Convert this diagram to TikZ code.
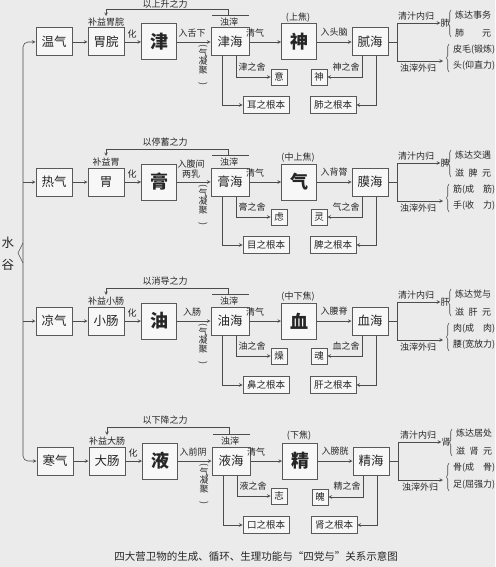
\documentclass[tikz,border=0pt]{standalone}
\usepackage{fontspec}
\setmainfont{Noto Sans CJK SC}
\usetikzlibrary{decorations.pathreplacing}

\begin{document}
\begin{tikzpicture}[x=1pt,y=-1pt,>=stealth,
    conn/.style={draw=black!70, line width=0.6pt},
    box/.style={draw=black!65, line width=1pt, fill=black!3, inner sep=0pt, text=black!85,
        minimum width=36pt, minimum height=28pt, font=\fontsize{12.5}{13}\selectfont},
    bigbox/.style={box, minimum width=35pt, minimum height=36pt, font=\fontsize{18}{18}\selectfont\bfseries},
    seabox/.style={box, minimum width=38pt},
    shebox/.style={box, line width=0.8pt, minimum width=16pt, minimum height=16pt, font=\fontsize{9.5}{10}\selectfont},
    rootbox/.style={shebox, minimum width=46pt, minimum height=17pt},
    lab/.style={inner sep=0pt, text=black!85, font=\fontsize{9}{10}\selectfont},
    vlab/.style={lab, align=center, font=\fontsize{9}{8.8}\selectfont},
    side/.style={lab, anchor=west},
    brc/.style={conn, decorate, decoration={brace, amplitude=2.5pt}}]

    \fill[black!8] (0,0) rectangle (495,567);
    \useasboundingbox (0,0) rectangle (495,567);

    % 水谷
    \node[lab, font=\fontsize{12.5}{13}\selectfont] (shui) at (8,243) {水};
    \node[lab, font=\fontsize{12.5}{13}\selectfont] (gu) at (8,265) {谷};
    \coordinate (sp) at (23,253);
    \draw[conn] (23,243) -- (18,253) -- (23,263);

    % row 1
    \node[box] (Q1) at (54,42) {温气};
    \node[box] (F1) at (106,42) {胃脘};
    \node[lab] at (106,22) {补益胃脘};
    \node[lab] at (132,34) {化};
    \node[bigbox] (E1) at (159,42) {津};
    \node[lab] at (192,33) {入舌下};
    \node[vlab] at (203,65) {\rotatebox{-90}{(}\\气\\凝\\聚\\\rotatebox{-90}{)}};
    \node[seabox] (S1) at (230,42) {津海};
    \node[lab] at (229,22) {浊滓};
    \draw[conn] (212,15) -- (249,15);
    \coordinate (b1) at (228,15);
    \coordinate (t1) at (228,9);
    \coordinate (a1) at (106,16);
    \draw[conn,->] (b1) -- (t1) -| (a1);
    \node[lab] at (165,4) {以上升之力};
    \node[lab] at (255,33) {清气};
    \node[bigbox] (J1) at (299,42) {神};
    \node[lab] at (298,18) {(上焦)};
    \node[lab] at (334,32) {入头脑};
    \node[box] (H1) at (370,42) {腻海};
    \coordinate (m1) at (397,42);
    \coordinate (u1) at (397,23);
    \coordinate (d1) at (397,61);
    \coordinate (e1) at (443,61);
    \node[lab] (o1) at (445,23) {肺};
    \node[lab] at (416,16) {清汁内归};
    \node[lab] at (418,68) {浊滓外归};
    \draw[brc] (451,37) -- (451,10);
    \node[side] at (455,15) {炼达事务};
    \node[side] at (455,33) {肺\hspace{2em}元};
    \draw[brc] (449,72) -- (449,44);
    \node[side] at (453,50) {皮毛(锻炼)};
    \node[side] at (453,66) {头(仰直力)};
    \node[shebox] (X1) at (279,77) {意};
    \node[rootbox] (R1) at (266,105) {耳之根本};
    \node[shebox] (Y1) at (319,77) {神};
    \node[rootbox] (K1) at (333,105) {肺之根本};
    \node[lab] at (252,67) {津之舍};
    \node[lab] at (346,67) {神之舍};

    \draw[conn,->,rounded corners=5pt] (sp) |- (Q1);
    \draw[conn,->] (Q1) -- (F1);
    \draw[conn,->] (F1) -- (E1);
    \draw[conn,->] (E1) -- (S1);
    \draw[conn,->] (S1) -- (J1);
    \draw[conn,->] (J1) -- (H1);
    \draw[conn] (H1) -- (m1);
    \draw[conn] (u1) -- (d1);
    \draw[conn,->] (u1) -- (o1);
    \draw[conn,->] (d1) -- (e1);
    \draw[conn,->] ([xshift=6pt]S1.south) |- (X1);
    \draw[conn,->] ([xshift=-8pt]S1.south) |- (R1);
    \draw[conn,->] ([xshift=-8pt]H1.south) |- (Y1);
    \draw[conn,->] ([xshift=6pt]H1.south) |- (K1);

    % row 2
    \node[box] (Q2) at (54,182) {热气};
    \node[box] (F2) at (106,182) {胃};
    \node[lab] at (106,162) {补益胃};
    \node[lab] at (132,174) {化};
    \node[bigbox] (E2) at (159,182) {膏};
    \node[lab, align=center] at (191,169) {入腹间\\两乳};
    \node[vlab] at (203,205) {\rotatebox{-90}{(}\\气\\凝\\聚\\\rotatebox{-90}{)}};
    \node[seabox] (S2) at (230,182) {膏海};
    \node[lab] at (229,162) {浊滓};
    \draw[conn] (212,155) -- (249,155);
    \coordinate (b2) at (228,155);
    \coordinate (t2) at (228,149);
    \coordinate (a2) at (106,156);
    \draw[conn,->] (b2) -- (t2) -| (a2);
    \node[lab] at (165,142) {以停蓄之力};
    \node[lab] at (255,173) {清气};
    \node[bigbox] (J2) at (299,182) {气};
    \node[lab] at (298,158) {(中上焦)};
    \node[lab] at (334,172) {入背膂};
    \node[box] (H2) at (370,182) {膜海};
    \coordinate (m2) at (397,182);
    \coordinate (u2) at (397,163);
    \coordinate (d2) at (397,201);
    \coordinate (e2) at (443,201);
    \node[lab] (o2) at (445,163) {脾};
    \node[lab] at (416,156) {清汁内归};
    \node[lab] at (418,208) {浊滓外归};
    \draw[brc] (451,177) -- (451,150);
    \node[side] at (455,155) {炼达交遇};
    \node[side] at (455,173) {滋\hspace{0.5em}脾\hspace{0.5em}元};
    \draw[brc] (449,212) -- (449,184);
    \node[side] at (453,190) {筋(成\hspace{1em}筋)};
    \node[side] at (453,206) {手(收\hspace{1em}力)};
    \node[shebox] (X2) at (279,217) {虑};
    \node[rootbox] (R2) at (266,245) {目之根本};
    \node[shebox] (Y2) at (319,217) {灵};
    \node[rootbox] (K2) at (333,245) {脾之根本};
    \node[lab] at (252,207) {膏之舍};
    \node[lab] at (346,207) {气之舍};

    \draw[conn,->] (sp |- Q2) -- (Q2);
    \draw[conn,->] (Q2) -- (F2);
    \draw[conn,->] (F2) -- (E2);
    \draw[conn,->] (E2) -- (S2);
    \draw[conn,->] (S2) -- (J2);
    \draw[conn,->] (J2) -- (H2);
    \draw[conn] (H2) -- (m2);
    \draw[conn] (u2) -- (d2);
    \draw[conn,->] (u2) -- (o2);
    \draw[conn,->] (d2) -- (e2);
    \draw[conn,->] ([xshift=6pt]S2.south) |- (X2);
    \draw[conn,->] ([xshift=-8pt]S2.south) |- (R2);
    \draw[conn,->] ([xshift=-8pt]H2.south) |- (Y2);
    \draw[conn,->] ([xshift=6pt]H2.south) |- (K2);

    % row 3
    \node[box] (Q3) at (54,321) {凉气};
    \node[box] (F3) at (106,321) {小肠};
    \node[lab] at (106,301) {补益小肠};
    \node[lab] at (132,313) {化};
    \node[bigbox] (E3) at (159,321) {油};
    \node[lab] at (192,312) {入肠};
    \node[vlab] at (203,344) {\rotatebox{-90}{(}\\气\\凝\\聚\\\rotatebox{-90}{)}};
    \node[seabox] (S3) at (230,321) {油海};
    \node[lab] at (229,301) {浊滓};
    \draw[conn] (212,294) -- (249,294);
    \coordinate (b3) at (228,294);
    \coordinate (t3) at (228,288);
    \coordinate (a3) at (106,295);
    \draw[conn,->] (b3) -- (t3) -| (a3);
    \node[lab] at (165,281) {以消导之力};
    \node[lab] at (255,312) {清气};
    \node[bigbox] (J3) at (299,321) {血};
    \node[lab] at (298,297) {(中下焦)};
    \node[lab] at (334,311) {入腰脊};
    \node[box] (H3) at (370,321) {血海};
    \coordinate (m3) at (397,321);
    \coordinate (u3) at (397,302);
    \coordinate (d3) at (397,340);
    \coordinate (e3) at (443,340);
    \node[lab] (o3) at (445,302) {肝};
    \node[lab] at (416,295) {清汁内归};
    \node[lab] at (418,347) {浊滓外归};
    \draw[brc] (451,316) -- (451,289);
    \node[side] at (455,294) {炼达觉与};
    \node[side] at (455,312) {滋\hspace{0.5em}肝\hspace{0.5em}元};
    \draw[brc] (449,351) -- (449,323);
    \node[side] at (453,329) {肉(成\hspace{1em}肉)};
    \node[side] at (453,345) {腰(宽放力)};
    \node[shebox] (X3) at (279,356) {燥};
    \node[rootbox] (R3) at (266,385) {鼻之根本};
    \node[shebox] (Y3) at (319,356) {魂};
    \node[rootbox] (K3) at (333,385) {肝之根本};
    \node[lab] at (252,346) {油之舍};
    \node[lab] at (346,346) {血之舍};

    \draw[conn,->] (sp |- Q3) -- (Q3);
    \draw[conn,->] (Q3) -- (F3);
    \draw[conn,->] (F3) -- (E3);
    \draw[conn,->] (E3) -- (S3);
    \draw[conn,->] (S3) -- (J3);
    \draw[conn,->] (J3) -- (H3);
    \draw[conn] (H3) -- (m3);
    \draw[conn] (u3) -- (d3);
    \draw[conn,->] (u3) -- (o3);
    \draw[conn,->] (d3) -- (e3);
    \draw[conn,->] ([xshift=6pt]S3.south) |- (X3);
    \draw[conn,->] ([xshift=-8pt]S3.south) |- (R3);
    \draw[conn,->] ([xshift=-8pt]H3.south) |- (Y3);
    \draw[conn,->] ([xshift=6pt]H3.south) |- (K3);

    % row 4
    \node[box] (Q4) at (55,461) {寒气};
    \node[box] (F4) at (107,461) {大肠};
    \node[lab] at (107,441) {补益大肠};
    \node[lab] at (133,453) {化};
    \node[bigbox] (E4) at (160,461) {液};
    \node[lab] at (193,452) {入前阴};
    \node[vlab] at (204,484) {\rotatebox{-90}{(}\\气\\凝\\聚\\\rotatebox{-90}{)}};
    \node[seabox] (S4) at (231,461) {液海};
    \node[lab] at (230,441) {浊滓};
    \draw[conn] (213,434) -- (250,434);
    \coordinate (b4) at (229,434);
    \coordinate (t4) at (229,427);
    \coordinate (a4) at (107,435);
    \draw[conn,->] (b4) -- (t4) -| (a4);
    \node[lab] at (165,420) {以下降之力};
    \node[lab] at (256,452) {清气};
    \node[bigbox] (J4) at (300,461) {精};
    \node[lab] at (299,436) {(下焦)};
    \node[lab] at (335,451) {入膀胱};
    \node[box] (H4) at (371,461) {精海};
    \coordinate (m4) at (398,461);
    \coordinate (u4) at (398,442);
    \coordinate (d4) at (398,480);
    \coordinate (e4) at (443,480);
    \node[lab] (o4) at (446,442) {肾};
    \node[lab] at (418,435) {清汁内归};
    \node[lab] at (420,487) {浊滓外归};
    \draw[brc] (452,456) -- (452,429);
    \node[side] at (456,433) {炼达居处};
    \node[side] at (456,451) {滋\hspace{0.5em}肾\hspace{0.5em}元};
    \draw[brc] (449,491) -- (449,463);
    \node[side] at (453,468) {骨(成\hspace{1em}骨)};
    \node[side] at (453,485) {足(屈强力)};
    \node[shebox] (X4) at (279,496) {志};
    \node[rootbox] (R4) at (266,525) {口之根本};
    \node[shebox] (Y4) at (320,497) {魄};
    \node[rootbox] (K4) at (334,525) {肾之根本};
    \node[lab] at (253,486) {液之舍};
    \node[lab] at (347,486) {精之舍};

    \draw[conn,->,rounded corners=5pt] (sp) |- (Q4);
    \draw[conn,->] (Q4) -- (F4);
    \draw[conn,->] (F4) -- (E4);
    \draw[conn,->] (E4) -- (S4);
    \draw[conn,->] (S4) -- (J4);
    \draw[conn,->] (J4) -- (H4);
    \draw[conn] (H4) -- (m4);
    \draw[conn] (u4) -- (d4);
    \draw[conn,->] (u4) -- (o4);
    \draw[conn,->] (d4) -- (e4);
    \draw[conn,->] ([xshift=6pt]S4.south) |- (X4);
    \draw[conn,->] ([xshift=-8pt]S4.south) |- (R4);
    \draw[conn,->] ([xshift=-8pt]H4.south) |- (Y4);
    \draw[conn,->] ([xshift=6pt]H4.south) |- (K4);

    % caption
    \node[lab, font=\fontsize{10.5}{11}\selectfont] (cap) at (256,556) {四大营卫物的生成、循环、生理功能与“四党与”关系示意图};
\end{tikzpicture}
\end{document}
